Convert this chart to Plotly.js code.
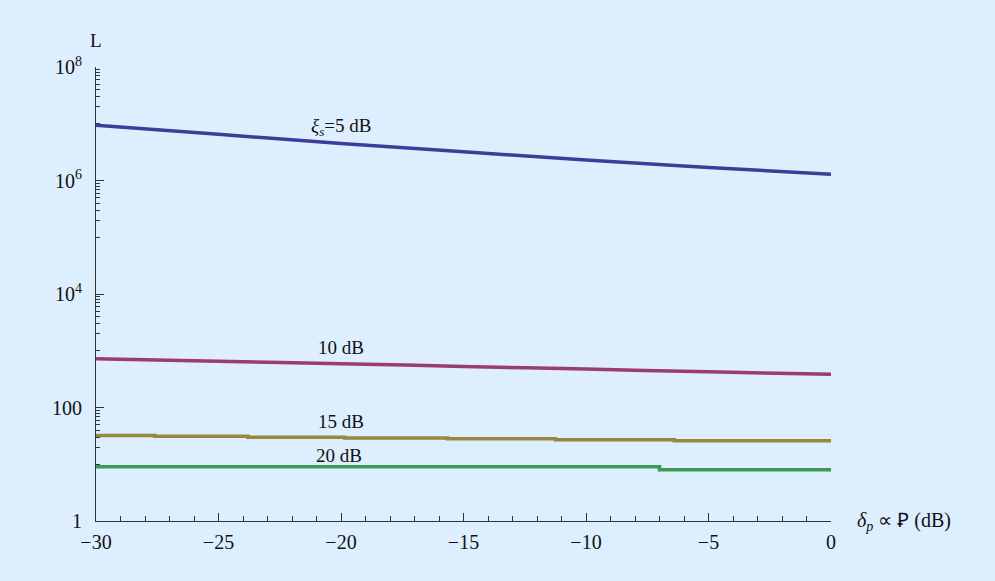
<!DOCTYPE html>
<html>
<head>
<meta charset="utf-8">
<script src="https://cdn.plot.ly/plotly-3.0.1.min.js"></script>
<style>
html,body{margin:0;padding:0;background:#ddeefe;}
#chart{width:995px;height:581px;}
</style>
</head>
<body>
<div id="chart"></div>
<script>
// Series data
var x5 = [-30, -25, -20, -15, -10, -5, 0];
var y5 = [9.4e6, 6.5e6, 4.5e6, 3.2e6, 2.3e6, 1.7e6, 1.29e6];

var x10 = [-30, -25, -20, -15, -10, -5, 0];
var y10 = [720, 650, 590, 530, 475, 425, 385];

var x15 = [-30, -27.6, -23.8, -19.85, -15.65, -11.25, -6.4, 0];
var y15 = [32, 31, 30, 29, 28, 27, 26, 26];

var x20 = [-30, -7, 0];
var y20 = [9, 8, 8];

var seriesLabels = ['<i>ξ</i><sub><i>s</i></sub>=5 dB', '10 dB', '15 dB', '20 dB'];
var labelX = [-20, -20, -20, -20.1];
var labelLogY = [6.94, 3.05, 1.76, 1.16];

var yTickVals = [1, 100, 1e4, 1e6, 1e8];
var yTickText = ['1', '100', '10<sup>4</sup>', '10<sup>6</sup>', '10<sup>8</sup>'];
var xTickVals = [-30, -25, -20, -15, -10, -5, 0];
var xTickText = ['\u221230', '\u221225', '\u221220', '\u221215', '\u221210', '\u22125', '0'];

var colors = ['rgb(61,61,153)', 'rgb(153,61,107)', 'rgb(153,135,61)', 'rgb(61,153,84)'];

var yMinor = [];
[1, 3, 5, 7].forEach(function (e) {
  for (var k = 1; k <= 9; k++) yMinor.push(k * Math.pow(10, e));
});
var xMinor = [];
for (var v = -30; v <= 0; v++) if (v % 5 !== 0) xMinor.push(v);

var serif = 'Liberation Serif, Times New Roman, serif';

var traces = [
  {x: x5, y: y5, mode: 'lines', line: {color: colors[0], width: 3.5, shape: 'spline'}},
  {x: x10, y: y10, mode: 'lines', line: {color: colors[1], width: 3.5, shape: 'spline'}},
  {x: x15, y: y15, mode: 'lines', line: {color: colors[2], width: 3.5, shape: 'hv'}},
  {x: x20, y: y20, mode: 'lines', line: {color: colors[3], width: 3.5, shape: 'hv'}}
];

var annotations = seriesLabels.map(function (t, i) {
  return {x: labelX[i], y: labelLogY[i], xref: 'x', yref: 'y', text: t, showarrow: false,
    font: {family: serif, size: 19, color: '#111'}, xanchor: 'center', yanchor: 'middle'};
});
annotations.push({xref: 'paper', yref: 'paper', x: 0, y: 1, xshift: 0, yshift: 14,
  text: 'L', showarrow: false, font: {family: serif, size: 19, color: '#111'},
  xanchor: 'center', yanchor: 'bottom'});
annotations.push({xref: 'paper', yref: 'paper', x: 1, y: 0, xshift: 24, yshift: 0,
  text: '<i>δ</i><sub><i>p</i></sub> ∝ \uA750 (dB)', showarrow: false,
  font: {family: serif, size: 20, color: '#111'}, xanchor: 'left', yanchor: 'middle'});

var layout = {
  width: 995, height: 581,
  paper_bgcolor: '#ddeefe', plot_bgcolor: '#ddeefe',
  margin: {l: 96, r: 164, t: 67, b: 60, pad: 0},
  showlegend: false,
  hovermode: false,
  font: {family: serif, size: 20, color: '#111'},
  xaxis: {
    range: [-30, 0], showgrid: false, zeroline: false,
    showline: true, linecolor: '#333', linewidth: 1,
    ticks: 'inside', ticklen: 8, tickcolor: '#333', tickwidth: 1,
    tickmode: 'array', tickvals: xTickVals, ticktext: xTickText,
    tickfont: {family: serif, size: 20, color: '#111'},
    ticklabelstandoff: 3,
    minor: {tickmode: 'array', tickvals: xMinor, ticks: 'inside', ticklen: 5, tickcolor: '#333', tickwidth: 1, showgrid: false}
  },
  yaxis: {
    type: 'log', range: [0, 8], showgrid: false, zeroline: false,
    showline: true, linecolor: '#333', linewidth: 1,
    ticks: 'inside', ticklen: 8, tickcolor: '#333', tickwidth: 1,
    tickmode: 'array', tickvals: yTickVals, ticktext: yTickText,
    tickfont: {family: serif, size: 20, color: '#111'},
    ticklabelstandoff: 9,
    minor: {tickmode: 'array', tickvals: yMinor, ticks: 'inside', ticklen: 4, tickcolor: '#333', tickwidth: 1, showgrid: false}
  },
  annotations: annotations
};

Plotly.newPlot('chart', traces, layout, {displayModeBar: false, staticPlot: true});
</script>
</body>
</html>
